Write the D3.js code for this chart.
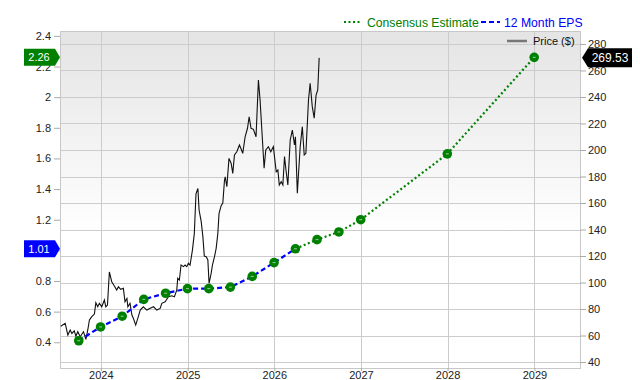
<!DOCTYPE html>
<html>
<head>
<meta charset="utf-8">
<script src="https://cdn.jsdelivr.net/npm/d3@7"></script>
<style>
  body { margin: 0; background: #fff; }
  svg { display: block; font-family: "Liberation Sans", Arial, sans-serif; }
</style>
</head>
<body>
<div id="grafico"></div>
<script>
// EPS reportado (trimestres) y estimaciones de consenso
const epsDates = ["2023-09-30", "2023-12-31", "2024-03-31", "2024-06-30", "2024-09-30", "2024-12-31",
  "2025-03-31", "2025-06-30", "2025-09-30", "2025-12-31", "2026-03-31"];
const epsValues = [0.41, 0.50, 0.57, 0.68, 0.72, 0.75, 0.75, 0.76, 0.83, 0.92, 1.01];
const estDates = ["2026-03-31", "2026-06-30", "2026-09-30", "2026-12-31", "2027-12-31", "2028-12-31"];
const estValues = [1.01, 1.07, 1.12, 1.20, 1.63, 2.26];

// Precio ($)
const priceDates = ["2023-07-16", "2023-08-04", "2023-08-15", "2023-08-25", "2023-09-01", "2023-09-11",
  "2023-09-18", "2023-09-26", "2023-10-06", "2023-10-20", "2023-10-30", "2023-11-07", "2023-11-14",
  "2023-11-24", "2023-12-05", "2023-12-11", "2023-12-19", "2023-12-26", "2024-01-05", "2024-01-16",
  "2024-01-22", "2024-01-29", "2024-02-06", "2024-02-16", "2024-02-27", "2024-03-08", "2024-03-15",
  "2024-03-25", "2024-04-05", "2024-04-12", "2024-04-20", "2024-04-24", "2024-05-03", "2024-05-11",
  "2024-05-17", "2024-05-27", "2024-06-07", "2024-06-15", "2024-06-28", "2024-07-13", "2024-07-27",
  "2024-08-10", "2024-08-24", "2024-09-07", "2024-09-14", "2024-09-28", "2024-10-12", "2024-10-26",
  "2024-11-06", "2024-11-16", "2024-11-20", "2024-11-27", "2024-12-04", "2024-12-14", "2024-12-21",
  "2024-12-28", "2025-01-04", "2025-01-11", "2025-01-21", "2025-01-29", "2025-02-05", "2025-02-13",
  "2025-02-18", "2025-02-27", "2025-03-06", "2025-03-12", "2025-03-20", "2025-03-27", "2025-04-01",
  "2025-04-10", "2025-04-15", "2025-04-24", "2025-05-01", "2025-05-08", "2025-05-13", "2025-05-22",
  "2025-05-29", "2025-06-05", "2025-06-08", "2025-06-15", "2025-06-24", "2025-07-03", "2025-07-10",
  "2025-07-17", "2025-07-27", "2025-08-07", "2025-08-13", "2025-08-21", "2025-08-31", "2025-09-10",
  "2025-09-17", "2025-09-25", "2025-10-05", "2025-10-16", "2025-10-26", "2025-11-02", "2025-11-12",
  "2025-11-19", "2025-11-26", "2025-12-07", "2025-12-17", "2025-12-28", "2026-01-09", "2026-01-16",
  "2026-01-22", "2026-01-30", "2026-02-06", "2026-02-13", "2026-02-20", "2026-02-27", "2026-03-09",
  "2026-03-18", "2026-03-27", "2026-03-31", "2026-04-08", "2026-04-20", "2026-04-29", "2026-05-07",
  "2026-05-14", "2026-05-25", "2026-06-01", "2026-06-10", "2026-06-18", "2026-06-26", "2026-07-03",
  "2026-07-09"];
const priceValues = [67, 69.2, 60.4, 64.2, 61.6, 63.6,
  59.6, 62.9, 59.1, 62.9, 57.1, 64.2, 71.7,
  74.2, 76.2, 84.8, 81.7, 84.3, 81.7, 86.8,
  81.7, 83, 108, 100.6, 97.4, 94.3, 96.8,
  94.9, 95.6, 85.5, 88, 81.7, 84.3, 75.5,
  73, 67.9, 74.2, 79.2, 81.7, 79.2, 80.5,
  81.7, 79.2, 80.5, 84.3, 85.5, 89.3, 90,
  89.3, 94.3, 103.2, 101.9, 113.2, 112, 113.2,
  112, 114.5, 113.2, 124.5, 137.1, 167, 171,
  154.7, 145.9, 134.6, 120, 119.5, 117, 99.4,
  107, 113, 119.5, 125.8, 137, 152, 158,
  160, 177, 179.8, 172.3, 193.7, 190, 182.4,
  196.2, 198.7, 203.8, 201.3, 197.5, 210, 216.4,
  225.1, 216.4, 215.6, 210, 252.8, 237.7, 207.5,
  186.2, 200, 202.5, 198.7, 202.5, 183.6, 184.9,
  173.6, 176.1, 173.6, 195, 183.6, 173.6, 207.5,
  215.1, 203.8, 210, 167.3, 202.5, 217.6, 196.2,
  197.5, 237.7, 250.3, 232.7, 224, 241.5, 245.3,
  269.53];

const leftTicks = [0.4, 0.6, 0.8, 1, 1.2, 1.4, 1.6, 1.8, 2, 2.2, 2.4];
const rightTicks = [40, 60, 80, 100, 120, 140, 160, 180, 200, 220, 240, 260, 280];
const yearTicks = ["2024", "2025", "2026", "2027", "2028", "2029"];

const width = 640;
const height = 380;
const plot = { left: 60, right: 580, top: 31, bottom: 368 };

const parse = d3.timeParse("%Y-%m-%d");
const parseYear = d3.timeParse("%Y");

const x = d3.scaleTime()
  .domain([parse("2023-07-13"), parse("2029-07-12")])
  .range([plot.left, plot.right]);
const yL = d3.scaleLinear().domain([0.232, 2.432]).range([plot.bottom, plot.top]);
const yR = d3.scaleLinear().domain([35.5, 289.8]).range([plot.bottom, plot.top]);

const svg = d3.select("#grafico").append("svg")
  .attr("width", width)
  .attr("height", height);

// Fondo degradado
const grad = svg.append("defs").append("linearGradient")
  .attr("id", "bg").attr("x1", 0).attr("y1", 0).attr("x2", 0).attr("y2", 1);
grad.append("stop").attr("offset", "0%").attr("stop-color", "#e4e4e4");
grad.append("stop").attr("offset", "60%").attr("stop-color", "#ffffff");

svg.append("rect")
  .attr("x", plot.left).attr("y", plot.top)
  .attr("width", plot.right - plot.left).attr("height", plot.bottom - plot.top)
  .attr("fill", "url(#bg)");

// Rejilla
svg.append("g").selectAll("line").data(rightTicks).join("line")
  .attr("x1", plot.left).attr("x2", plot.right)
  .attr("y1", (d) => Math.round(yR(d)) + 0.5).attr("y2", (d) => Math.round(yR(d)) + 0.5)
  .attr("stroke", "#cccccc");
svg.append("g").selectAll("line").data(yearTicks).join("line")
  .attr("x1", (d) => Math.round(x(parseYear(d))) + 0.5).attr("x2", (d) => Math.round(x(parseYear(d))) + 0.5)
  .attr("y1", plot.top).attr("y2", plot.bottom)
  .attr("stroke", "#cccccc");

svg.append("rect")
  .attr("x", plot.left + 0.5).attr("y", plot.top + 0.5)
  .attr("width", plot.right - plot.left).attr("height", plot.bottom - plot.top)
  .attr("fill", "none").attr("stroke", "#c8c8c8");

// Precio
const price = priceDates.map((d, i) => ({ date: parse(d), v: priceValues[i] }));
svg.append("path")
  .datum(price)
  .attr("fill", "none")
  .attr("stroke", "#111")
  .attr("stroke-width", 1.1)
  .attr("d", d3.line().x((d) => x(d.date)).y((d) => yR(d.v)));

// EPS
const eps = epsDates.map((d, i) => ({ date: parse(d), v: epsValues[i] }));
const est = estDates.map((d, i) => ({ date: parse(d), v: estValues[i] }));
const lineEps = d3.line().x((d) => x(d.date)).y((d) => yL(d.v));

svg.append("path").datum(est)
  .attr("fill", "none").attr("stroke", "#008000").attr("stroke-width", 2.2)
  .attr("stroke-dasharray", "2,2.5")
  .attr("d", lineEps);
svg.append("path").datum(eps)
  .attr("fill", "none").attr("stroke", "#0000ff").attr("stroke-width", 2.2)
  .attr("stroke-dasharray", "5,3")
  .attr("d", lineEps);

const puntos = eps.concat(est.slice(1));
const marks = svg.append("g").selectAll("g").data(puntos).join("g")
  .attr("transform", (d) => `translate(${x(d.date)},${yL(d.v)})`);
marks.append("circle").attr("r", 4.8).attr("fill", "#008000");
marks.append("line").attr("x1", -1.5).attr("x2", 1.5)
  .attr("stroke", "#ffffff").attr("stroke-opacity", 0.6).attr("stroke-width", 1);

// Eje izquierdo
const axL = svg.append("g")
  .attr("transform", `translate(${plot.left},0)`)
  .call(d3.axisLeft(yL).tickValues(leftTicks).tickSize(6).tickPadding(3).tickFormat(d3.format("~g")));
axL.select(".domain").remove();
axL.selectAll("line").attr("stroke", "#aaa");
axL.selectAll("text").attr("fill", "#222").style("font-size", "11px");

// Eje derecho
const axR = svg.append("g")
  .attr("transform", `translate(${plot.right},0)`)
  .call(d3.axisRight(yR).tickValues(rightTicks).tickSize(6).tickPadding(2));
axR.select(".domain").remove();
axR.selectAll("line").attr("stroke", "#aaa");
axR.selectAll("text").attr("fill", "#222").style("font-size", "11px");

// Eje X
const axX = svg.append("g")
  .attr("transform", `translate(0,${plot.bottom})`)
  .call(d3.axisBottom(x).tickValues(yearTicks.map(parseYear)).tickSize(3).tickPadding(0)
    .tickFormat(d3.timeFormat("%Y")));
axX.select(".domain").remove();
axX.selectAll("line").attr("stroke", "#aaa");
axX.selectAll("text").attr("fill", "#222").style("font-size", "11px")
  .attr("y", 11).attr("dy", null);

// Etiquetas de valor
function tagLeft(yc, text, color) {
  const g = svg.append("g").attr("transform", `translate(0,${yc})`);
  g.append("path")
    .attr("d", `M24,-8.5 H55 L60,0 L55,8.5 H24 Z`)
    .attr("fill", color);
  g.append("text").attr("x", 39).attr("y", 4).attr("text-anchor", "middle")
    .attr("fill", "#fff").style("font-size", "11px").text(text);
}
tagLeft(yL(estValues[estValues.length - 1]), "2.26", "#008000");
tagLeft(yL(epsValues[epsValues.length - 1]), "1.01", "#0000ff");

const lastPrice = priceValues[priceValues.length - 1];
const gp = svg.append("g").attr("transform", `translate(0,${yR(lastPrice)})`);
gp.append("path").attr("d", "M582,0 L588,-9.5 H632 V9.5 H588 Z").attr("fill", "#000");
gp.append("text").attr("x", 610).attr("y", 4.5).attr("text-anchor", "middle")
  .attr("fill", "#fff").style("font-size", "12px").text(lastPrice.toFixed(2));

// Leyenda
const ley = svg.append("g");
ley.append("line").attr("x1", 344).attr("x2", 362).attr("y1", 22).attr("y2", 22)
  .attr("stroke", "#008000").attr("stroke-width", 2.2).attr("stroke-dasharray", "2,2.5");
ley.append("text").attr("x", 367).attr("y", 27).attr("fill", "#008000")
  .style("font-size", "12.2px").text("Consensus Estimate");
ley.append("line").attr("x1", 481).attr("x2", 500).attr("y1", 22).attr("y2", 22)
  .attr("stroke", "#0000ff").attr("stroke-width", 2.2).attr("stroke-dasharray", "5,3");
ley.append("text").attr("x", 504).attr("y", 27).attr("fill", "#0000ff")
  .style("font-size", "12.2px").text("12 Month EPS");

ley.append("line").attr("x1", 507).attr("x2", 527).attr("y1", 41).attr("y2", 41)
  .attr("stroke", "#777").attr("stroke-width", 2.5);
ley.append("text").attr("x", 533).attr("y", 45).attr("fill", "#111")
  .style("font-size", "11px").text("Price ($)");
</script>
</body>
</html>
